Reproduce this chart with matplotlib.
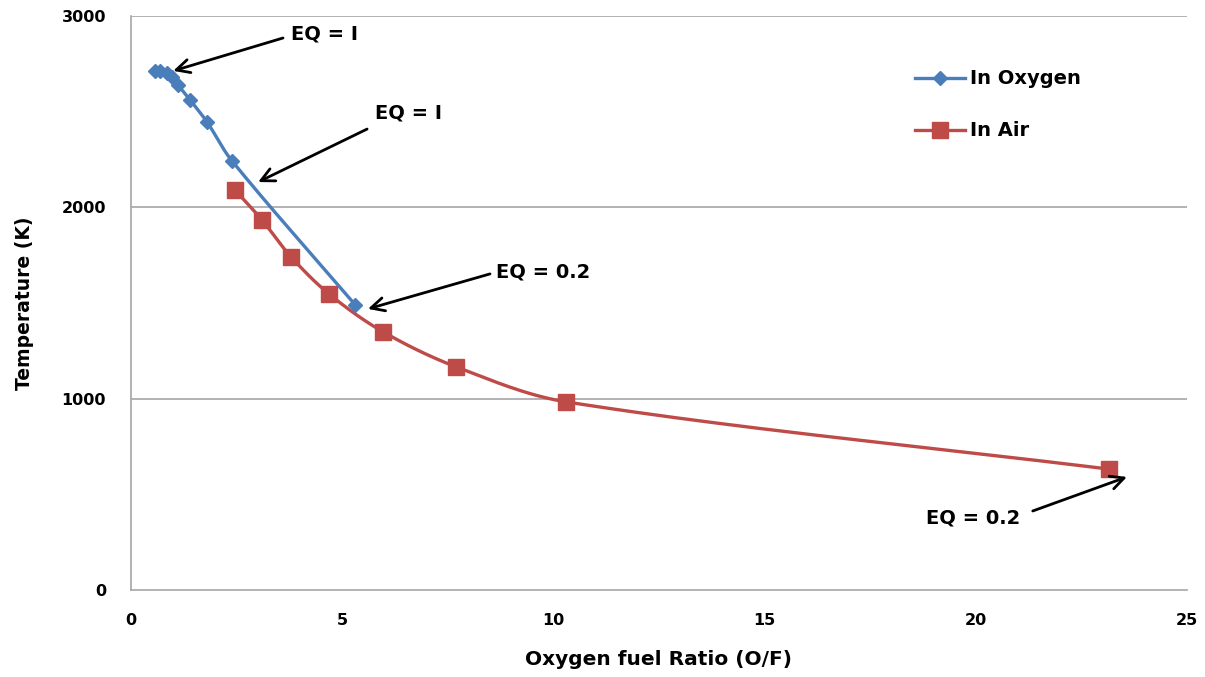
import numpy as np
import matplotlib
matplotlib.use("Agg")
import matplotlib.pyplot as plt
from matplotlib.lines import Line2D

# Data
oxy_of = [0.57, 0.69, 0.85, 0.97, 1.11, 1.40, 1.80, 2.39, 5.31]
oxy_T = [2713, 2713, 2703, 2682, 2640, 2561, 2446, 2243, 1490]
air_of = [2.46, 3.10, 3.79, 4.69, 5.97, 7.70, 10.31, 23.15]
air_T = [2091, 1934, 1741, 1547, 1349, 1166, 983, 632]
x_ticks = [0, 5, 10, 15, 20, 25]
y_ticks = [0, 1000, 2000, 3000]
series_labels = ["In Oxygen", "In Air"]

BLUE = "#4A7EBB"
RED = "#BE4B48"
FONT = ["DejaVu Sans"]
plt.rcParams['font.family'] = FONT

fig = plt.figure(figsize=(12.05, 6.77), dpi=100)
ax = fig.add_axes([0.1087, 0.1285, 0.985 - 0.1087, 0.9764 - 0.1285])
ax.set_xlim(0, 25)
ax.set_ylim(0, 3000)


def smooth(ax, xs, ys, n=40):
    """Smooth bezier curve through the points, computed in display space."""
    pts = ax.transData.transform(np.column_stack([xs, ys]))
    m = len(pts)
    dirs = []
    for i in range(m):
        a = pts[max(i - 1, 0)]
        b = pts[min(i + 1, m - 1)]
        d = b - a
        dirs.append(d / np.hypot(*d))
    out = [pts[0]]
    t = np.linspace(0, 1, n)[1:]
    for i in range(m - 1):
        p1, p2 = pts[i], pts[i + 1]
        L = np.hypot(*(p2 - p1))
        c1 = p1 + dirs[i] * L / 3.0
        c2 = p2 - dirs[i + 1] * L / 3.0
        seg = ((1 - t)[:, None] ** 3 * p1 + 3 * ((1 - t) ** 2 * t)[:, None] * c1
               + 3 * ((1 - t) * t ** 2)[:, None] * c2 + (t ** 3)[:, None] * p2)
        out.extend(seg)
    out = np.array(out)
    back = ax.transData.inverted().transform(out)
    return back[:, 0], back[:, 1]


for yv in y_ticks[1:]:
    ax.axhline(yv, color="#A6A6A6", lw=1.2, zorder=0)

sx, sy = smooth(ax, air_of, air_T)
ax.plot(sx, sy, color=RED, lw=2.4, zorder=2, solid_capstyle="round")
ax.plot(air_of, air_T, ls="none", marker="s", ms=11, color=RED, zorder=3)

sx, sy = smooth(ax, oxy_of, oxy_T)
ax.plot(sx, sy, color=BLUE, lw=2.4, zorder=4, solid_capstyle="round")
ax.plot(oxy_of, oxy_T, ls="none", marker="D", ms=7.5, color=BLUE, zorder=5)

for side in ["top", "right"]:
    ax.spines[side].set_visible(False)
for side in ["left", "bottom"]:
    ax.spines[side].set_color("#A6A6A6")
    ax.spines[side].set_linewidth(1.2)

ax.set_xticks(x_ticks)
ax.set_yticks(y_ticks)
ax.tick_params(length=0, labelsize=11.5)
for lab in ax.get_xticklabels() + ax.get_yticklabels():
    lab.set_fontweight("bold")
ax.tick_params(axis="x", pad=16.5)
ax.tick_params(axis="y", pad=18)

ax.set_xlabel("Oxygen fuel Ratio (O/F)", fontsize=14.5, fontweight="bold", labelpad=16)
ax.set_ylabel("Temperature (K)", fontsize=13.5, fontweight="bold", labelpad=20)

# Annotations (text position, arrow tail, arrow head) in data coords
anns = [
    ("EQ = I", (4.59, 2906), (3.6, 2885), (1.0, 2713)),
    ("EQ = I", (6.56, 2493), (5.59, 2409), (3.01, 2132)),
    ("EQ = 0.2", (9.75, 1662), (8.5, 1652), (5.61, 1469)),
    ("EQ = 0.2", (19.93, 376), (21.35, 413), (23.58, 591)),
]
for txt, tpos, tail, head in anns:
    ax.text(tpos[0], tpos[1], txt, fontsize=14, fontweight="bold",
            ha="center", va="center", zorder=6)
    ax.annotate("", xy=head, xytext=tail,
                arrowprops=dict(arrowstyle="->", color="black", lw=2.0,
                                mutation_scale=24, shrinkA=0, shrinkB=0),
                zorder=6)

handles = [
    Line2D([], [], color=BLUE, lw=2.4, marker="D", ms=7.5),
    Line2D([], [], color=RED, lw=2.4, marker="s", ms=11),
]
leg = ax.legend(handles, series_labels, loc="upper left",
                bbox_to_anchor=(0.7424, 0.907), frameon=False,
                borderaxespad=0, borderpad=0,
                prop=dict(family=FONT, weight="bold", size=14),
                handlelength=2.6, handletextpad=0.25, labelspacing=1.7)

fig.savefig("out.png", dpi=100, facecolor="white")
